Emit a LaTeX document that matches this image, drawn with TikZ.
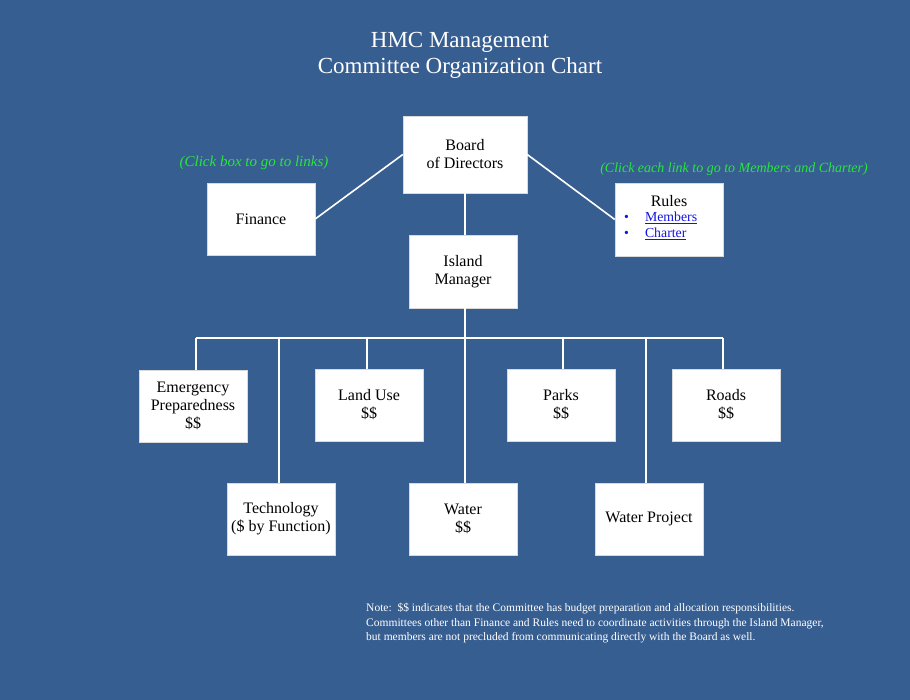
\documentclass[tikz,border=0pt]{standalone}
\usepackage{fontspec}
\setmainfont{Liberation Serif}
\usetikzlibrary{positioning}
\definecolor{chartbg}{RGB}{55,94,145}
\definecolor{clickgreen}{RGB}{40,230,60}
\definecolor{linkblue}{RGB}{20,20,225}
\tikzset{
    unit/.style={fill=white, draw=white!85!black, line width=0.4pt, minimum width=108pt, minimum height=72pt, align=center, font=\fontsize{16}{18}\selectfont},
    wire/.style={white, line width=1.6pt},
    hint/.style={text=clickgreen, font=\fontsize{14}{16}\selectfont\itshape},
    linkitem/.style={anchor=west, inner sep=0pt, text=linkblue, font=\fontsize{13.8}{15}\selectfont},
}
\begin{document}
\begin{tikzpicture}[x=1pt, y=-1pt]
    % Background
    \fill[chartbg] (0,0) rectangle (910,700);
    \useasboundingbox (0,0) rectangle (910,700);

    % Title
    \node[white, align=center, font=\fontsize{23}{26}\selectfont] (title) at (460,55) {HMC Management\\Committee Organization Chart};

    % Top level
    \node[unit, minimum width=124pt, minimum height=77pt] (board) at (465,154.5) {Board\\of Directors};
    \node[unit] (finance) at (261,219) {Finance};
    \node[unit, minimum height=73pt] (rules) at (669,219.5) {};
    \node[font=\fontsize{16}{18}\selectfont] (rulestitle) at (669,201) {Rules};
    \node[linkitem] (members) at (624,218) {\textbullet\hspace{16pt}\underline{Members}};
    \node[linkitem] (charter) at (624,234) {\textbullet\hspace{16pt}\underline{Charter}};
    \node[unit, minimum height=73pt] (manager) at (463,271.5) {Island\\Manager};

    % Hints
    \node[hint, font=\fontsize{15}{16}\selectfont\itshape] (hintleft) at (254,163) {(Click box to go to links)};
    \node[hint] (hintright) at (734,169) {(Click each link to go to Members and Charter)};

    % Committees, first row
    \node[unit] (emergency) at (193,406) {Emergency\\Preparedness\\\$\$};
    \node[unit] (landuse) at (369,405) {Land Use\\\$\$};
    \node[unit] (parks) at (561,405) {Parks\\\$\$};
    \node[unit] (roads) at (726,405) {Roads\\\$\$};

    % Committees, second row
    \node[unit] (technology) at (281,519) {Technology\\(\$ by Function)};
    \node[unit] (water) at (463,519) {Water\\\$\$};
    \node[unit] (waterproject) at (649,519) {Water Project};

    % Bus
    \coordinate (bus) at (465,338);
    \coordinate (busleft) at (196,338);
    \coordinate (busright) at (723,338);

    % Connectors
    \draw[wire] (board.west) -- (finance.east);
    \draw[wire] (board.east) -- (rules.west);
    \draw[wire] (board.south) -- (board.south |- manager.north);
    \draw[wire] (manager.south -| bus) -- (bus);
    \draw[wire] (busleft) -- (busright);
    \draw[wire] (busleft) -- (busleft |- emergency.north);
    \draw[wire] (busright) -- (busright |- roads.north);
    \draw[wire] (bus -| 367,0) -- (landuse.north -| 367,0);
    \draw[wire] (bus -| 563,0) -- (parks.north -| 563,0);
    \draw[wire] (bus -| 279,0) -- (technology.north -| 279,0);
    \draw[wire] (bus -| 646,0) -- (waterproject.north -| 646,0);
    \draw[wire] (bus) -- (bus |- water.north);

    % Note
    \node[anchor=north west, white, align=left, inner sep=0pt, font=\fontsize{11.5}{14.5}\selectfont] (note) at (366,603) {Note:\ \ \$\$ indicates that the Committee has budget preparation and allocation responsibilities.\\Committees other than Finance and Rules need to coordinate activities through the Island Manager,\\but members are not precluded from communicating directly with the Board as well.};
\end{tikzpicture}
\end{document}
